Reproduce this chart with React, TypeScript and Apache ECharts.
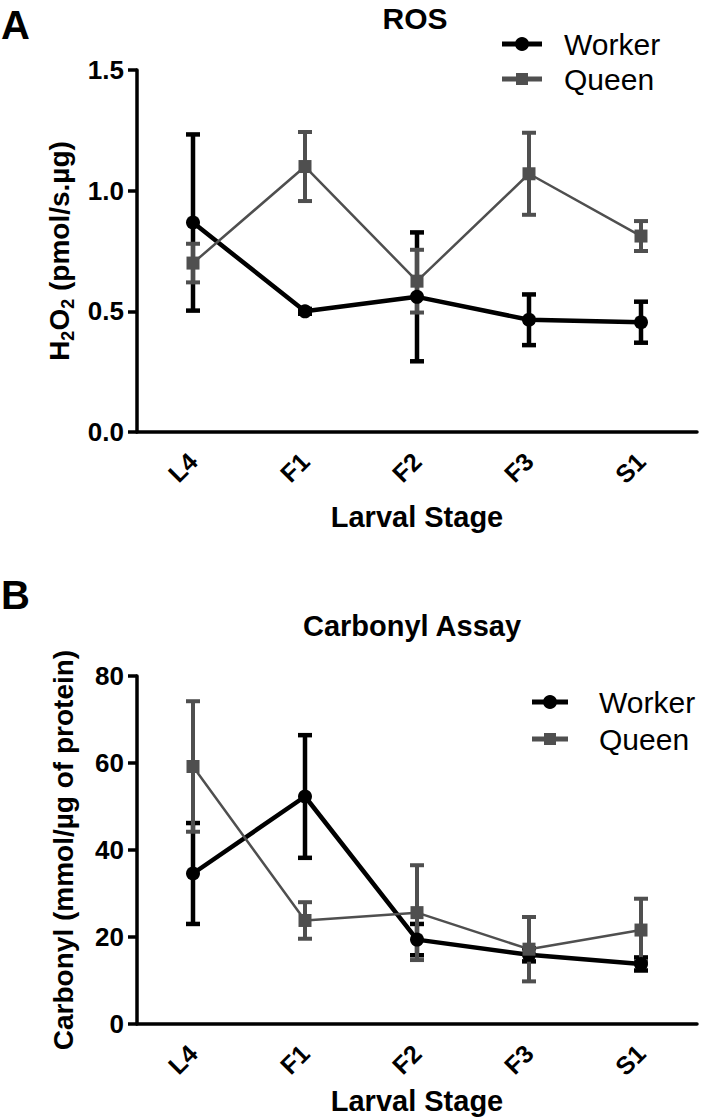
import { useEffect, useRef } from 'react';
import * as echarts from 'echarts';

const stages = ['L4', 'F1', 'F2', 'F3', 'S1'];
const rosWorkerMean = [0.868, 0.5, 0.56, 0.465, 0.455];
const rosWorkerErr = [0.365, 0.01, 0.267, 0.105, 0.085];
const rosQueenMean = [0.7, 1.1, 0.625, 1.07, 0.812];
const rosQueenErr = [0.08, 0.143, 0.13, 0.17, 0.062];
const carbWorkerMean = [34.6, 52.3, 19.4, 15.9, 13.8];
const carbWorkerErr = [11.6, 14.1, 3.6, 1.5, 1.5];
const carbQueenMean = [59.2, 23.8, 25.6, 17.2, 21.6];
const carbQueenErr = [15.0, 4.2, 10.9, 7.4, 7.2];
const seriesNames = ['Worker', 'Queen'];
const rosAxis = { min: 0, max: 1.5, interval: 0.5 };
const carbAxis = { min: 0, max: 80, interval: 20 };

const BLACK = '#000000';
const GRAY = '#4f4f4f';
const FONT = 'Liberation Sans, Arial, sans-serif';

function errData(mean: number[], err: number[]) {
  return mean.map((m, i) => [i, m - err[i], m + err[i]]);
}

function errSeries(name: string, data: number[][], color: string, width: number, idx: number) {
  return {
    type: 'custom',
    name,
    xAxisIndex: idx,
    yAxisIndex: idx,
    data,
    encode: { x: 0, y: [1, 2] },
    renderItem: (params: any, api: any) => {
      const lo = api.coord([api.value(0), api.value(1)]);
      const hi = api.coord([api.value(0), api.value(2)]);
      const h = 7;
      const style = { stroke: color, lineWidth: width, fill: null };
      return {
        type: 'group',
        children: [
          { type: 'line', shape: { x1: lo[0], y1: lo[1], x2: hi[0], y2: hi[1] }, style },
          { type: 'line', shape: { x1: lo[0] - h, y1: lo[1], x2: lo[0] + h, y2: lo[1] }, style },
          { type: 'line', shape: { x1: hi[0] - h, y1: hi[1], x2: hi[0] + h, y2: hi[1] }, style },
        ],
      };
    },
  };
}

function lineSeries(name: string, data: number[], color: string, width: number, symbol: string, size: number, idx: number) {
  return {
    type: 'line',
    name,
    xAxisIndex: idx,
    yAxisIndex: idx,
    data,
    symbol,
    symbolSize: size,
    showAllSymbol: true,
    lineStyle: { color, width },
    itemStyle: { color, borderWidth: 0 },
  };
}

function xAxis(idx: number, nameGap: number) {
  return {
    type: 'category',
    gridIndex: idx,
    data: stages,
    boundaryGap: true,
    name: 'Larval Stage',
    nameLocation: 'middle',
    nameGap,
    nameTextStyle: { fontFamily: FONT, fontWeight: 'bold', fontSize: 29, color: BLACK },
    axisLine: { lineStyle: { color: BLACK, width: 3.5 } },
    axisTick: { alignWithLabel: true, length: 9, lineStyle: { color: BLACK, width: 3.5 } },
    axisLabel: { rotate: 45, margin: 25, fontFamily: FONT, fontWeight: 'bold', fontSize: 25, color: BLACK },
    splitLine: { show: false },
  };
}

function yAxis(idx: number, range: any, name: any, nameGap: number, rich: any, fmt: (v: number) => string) {
  return {
    type: 'value',
    gridIndex: idx,
    min: range.min,
    max: range.max,
    interval: range.interval,
    name,
    nameLocation: 'middle',
    nameGap,
    nameRotate: 90,
    nameTextStyle: { fontFamily: FONT, fontWeight: 'bold', fontSize: 28, color: BLACK, rich },
    axisLine: { show: true, lineStyle: { color: BLACK, width: 3.5 } },
    axisTick: { show: true, length: 9, lineStyle: { color: BLACK, width: 3.5 } },
    axisLabel: { margin: 13, fontFamily: FONT, fontWeight: 'bold', fontSize: 26, color: BLACK, formatter: fmt },
    splitLine: { show: false },
  };
}

function legendItems(x: number, w: number, y1: number, y2: number, textX: number) {
  const txt = (t: string, y: number) => ({
    type: 'text',
    x: textX,
    y,
    style: { text: t, fontFamily: FONT, fontSize: 30, fill: BLACK, textAlign: 'left', textVerticalAlign: 'middle' },
  });
  const cx = x + w / 2;
  return [
    { type: 'line', shape: { x1: x, y1, x2: x + w, y2: y1 }, style: { stroke: BLACK, lineWidth: 5 } },
    { type: 'circle', shape: { cx, cy: y1, r: 7 }, style: { fill: BLACK } },
    txt(seriesNames[0], y1),
    { type: 'line', shape: { x1: x, y1: y2, x2: x + w, y2 }, style: { stroke: GRAY, lineWidth: 5 } },
    { type: 'rect', shape: { x: cx - 6, y: y2 - 6, width: 12, height: 12 }, style: { fill: GRAY } },
    txt(seriesNames[1], y2),
  ];
}

export default function App() {
  const ref = useRef<HTMLDivElement>(null);
  useEffect(() => {
    if (!ref.current) return;
    const chart = echarts.init(ref.current, undefined, { renderer: 'svg' });
    const h2Rich = {
      a: { fontFamily: FONT, fontWeight: 'bold', fontSize: 28, lineHeight: 34, verticalAlign: 'middle', color: BLACK },
      s: { fontFamily: FONT, fontWeight: 'bold', fontSize: 18, lineHeight: 18, verticalAlign: 'bottom', color: BLACK },
    };
    const option: any = {
      animation: false,
      backgroundColor: '#ffffff',
      grid: [
        { left: 137, right: 6, top: 70, height: 362, containLabel: false },
        { left: 137, right: 6, top: 676, height: 348, containLabel: false },
      ],
      xAxis: [xAxis(0, 70), xAxis(1, 62)],
      yAxis: [
        yAxis(0, rosAxis, '{a|H}{s|2}{a|O}{s|2}{a| (pmol/s.µg)}', 60, h2Rich, (v: number) => v.toFixed(1)),
        yAxis(1, carbAxis, 'Carbonyl (mmol/µg of protein)', 60, undefined, (v: number) => String(v)),
      ],
      series: [
        errSeries('Worker SEM A', errData(rosWorkerMean, rosWorkerErr), BLACK, 4.5, 0),
        lineSeries(seriesNames[0], rosWorkerMean, BLACK, 4.5, 'circle', 14, 0),
        errSeries('Queen SEM A', errData(rosQueenMean, rosQueenErr), GRAY, 4, 0),
        lineSeries(seriesNames[1], rosQueenMean, GRAY, 2.5, 'rect', 13, 0),
        errSeries('Worker SEM B', errData(carbWorkerMean, carbWorkerErr), BLACK, 4.5, 1),
        lineSeries(seriesNames[0], carbWorkerMean, BLACK, 4.5, 'circle', 14, 1),
        errSeries('Queen SEM B', errData(carbQueenMean, carbQueenErr), GRAY, 4, 1),
        lineSeries(seriesNames[1], carbQueenMean, GRAY, 2.5, 'rect', 13, 1),
      ],
      graphic: [
        { type: 'text', x: 1, y: 5, style: { text: 'A', fontFamily: FONT, fontWeight: 'bold', fontSize: 40, fill: BLACK } },
        { type: 'text', x: 1, y: 575, style: { text: 'B', fontFamily: FONT, fontWeight: 'bold', fontSize: 40, fill: BLACK } },
        { type: 'text', x: 415, y: 18, style: { text: 'ROS', fontFamily: FONT, fontWeight: 'bold', fontSize: 30, fill: BLACK, textAlign: 'center', textVerticalAlign: 'middle' } },
        { type: 'text', x: 412, y: 626, style: { text: 'Carbonyl Assay', fontFamily: FONT, fontWeight: 'bold', fontSize: 29, fill: BLACK, textAlign: 'center', textVerticalAlign: 'middle' } },
        ...legendItems(502, 40, 44, 79, 564),
        ...legendItems(532, 36, 702, 739, 599),
      ],
    };
    chart.setOption(option);
    return () => chart.dispose();
  }, []);
  return <div ref={ref} style={{ position: 'absolute', left: 0, top: 0, width: 703, height: 1120 }} />;
}
